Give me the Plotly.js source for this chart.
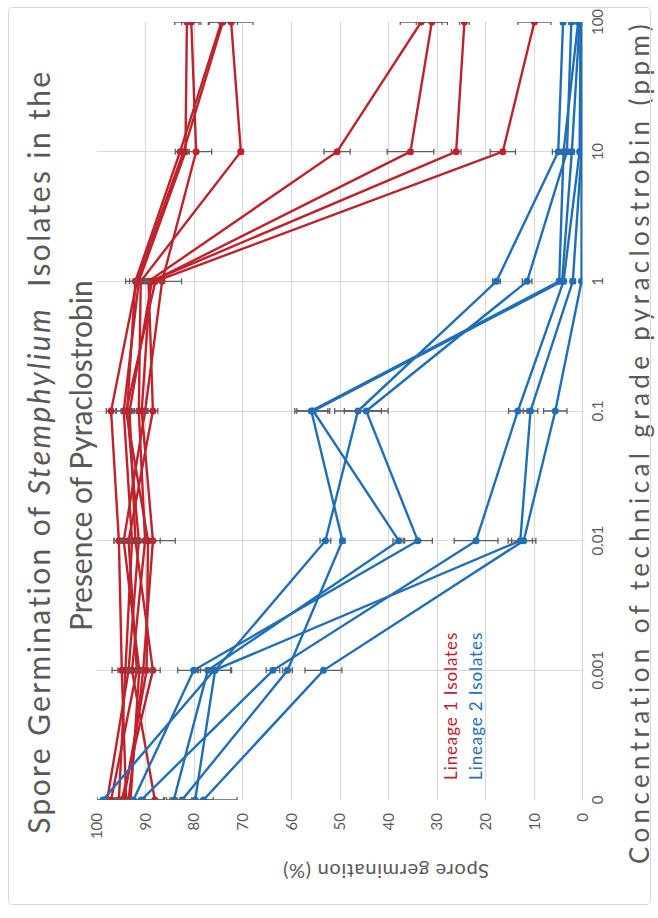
<!DOCTYPE html>
<html>
<head>
<meta charset="utf-8">
<script src="https://cdn.plot.ly/plotly-3.0.1.min.js"></script>
<style>
  html, body { margin:0; padding:0; background:#ffffff; }
  body { width:658px; height:918px; overflow:hidden; position:relative; }
  #wrap { position:absolute; left:0; top:0; width:918px; height:658px;
          transform-origin:0 0; transform:translate(0px,918px) rotate(-90deg); }
  #chart { position:absolute; left:0; top:0; width:918px; height:658px; }
  #frame { position:absolute; left:13px; top:8px; width:896px; height:641px;
           border:1px solid #d9d9d9; border-radius:4px; pointer-events:none; }
</style>
</head>
<body>
<div id="wrap"><div id="chart"></div><div id="frame"></div></div>
<script>
// Concentration categories (ppm)
const concentrations = ['0', '0.001', '0.01', '0.1', '1', '10', '100'];

// Lineage 1 isolates (red) – spore germination (%)
const lin1_a = [95.5, 94.2, 92.8, 94.5, 91.4, 81.8, 81.5];
const lin1_b = [93.1, 91.3, 94.5, 90.1, 86.6, 79.6, 80.6];
const lin1_c = [97.9, 93.5, 91.4, 93.8, 92.1, 82.9, 74.4];
const lin1_d = [94.0, 94.9, 95.5, 97.1, 91.8, 82.2, 74.1];
const lin1_e = [88.1, 92.8, 90.1, 91.4, 91.0, 70.4, 72.4];
const lin1_f = [97.1, 91.8, 93.5, 88.5, 89.4, 50.6, 33.3];
const lin1_g = [94.9, 88.5, 92.1, 93.3, 88.7, 35.5, 31.1];
const lin1_h = [93.5, 90.5, 88.5, 90.8, 89.0, 26.1, 24.4];
const lin1_i = [94.5, 89.8, 89.5, 94.0, 88.0, 16.5, 10.0];
// error (± %)
const lin1_a_err = [1.5, 1.5, 1.5, 1.5, 1.0, 0.8, 2.5];
const lin1_b_err = [2.0, 1.5, 2.0, 1.5, 4.0, 3.2, 2.0];
const lin1_c_err = [1.0, 1.0, 1.0, 1.0, 2.0, 1.0, 2.5];
const lin1_d_err = [1.5, 2.0, 1.0, 1.0, 1.5, 0.8, 3.0];
const lin1_e_err = [2.0, 1.0, 1.5, 1.0, 1.0, 0.5, 4.5];
const lin1_f_err = [1.0, 1.5, 1.5, 1.0, 1.5, 2.7, 4.3];
const lin1_g_err = [1.5, 1.5, 1.0, 1.0, 1.0, 4.8, 3.2];
const lin1_h_err = [1.0, 1.5, 1.5, 1.0, 1.0, 1.0, 1.0];
const lin1_i_err = [1.5, 1.0, 5.6, 1.0, 1.5, 2.6, 3.4];

// Lineage 2 isolates (blue) – spore germination (%)
const lin2_a = [79.8, 75.7, 53.0, 46.3, 17.8, 5.1, 4.1];
const lin2_b = [82.5, 60.8, 49.5, 55.9, 4.9, 4.0, 1.0];
const lin2_c = [84.2, 77.2, 37.9, 55.5, 4.3, 2.3, 0.7];
const lin2_d = [92.5, 80.1, 34.0, 44.6, 11.5, 3.3, 2.4];
const lin2_e = [90.9, 63.8, 22.0, 13.4, 4.0, 0.7, 0.5];
const lin2_f = [98.8, 75.9, 12.9, 10.8, 2.1, 0.3, 0.5];
const lin2_g = [78.1, 53.4, 12.2, 5.7, 0.3, 0.3, 0.3];
const lin2_a_err = [3.7, 3.4, 1.1, 4.8, 0.8, 1.2, 0.5];
const lin2_b_err = [2.0, 1.0, 0.5, 3.4, 0.5, 0.5, 0.4];
const lin2_c_err = [1.5, 1.5, 1.2, 3.4, 0.5, 0.5, 0.4];
const lin2_d_err = [2.3, 3.3, 3.0, 4.5, 1.0, 0.6, 0.5];
const lin2_e_err = [4.6, 1.4, 4.5, 1.9, 0.5, 0.4, 0.3];
const lin2_f_err = [1.2, 3.4, 2.5, 1.5, 0.5, 0.3, 0.3];
const lin2_g_err = [6.9, 3.8, 2.5, 2.4, 0.3, 0.3, 0.3];

const titleLine1 = 'Spore Germination of <i>Stemphylium</i>  Isolates in the';
const titleLine2 = 'Presence of Pyraclostrobin';
const xTitle = 'Concentration of technical grade pyraclostrobin (ppm)';
const yTitle = 'Spore germination (%)';
const legend1 = 'Lineage 1 Isolates';
const legend2 = 'Lineage 2 Isolates';

const RED = '#c0222c';
const BLUE = '#1f6fb8';
const ERR = '#5f5f5f';
const FONT = 'Lato, "Open Sans", sans-serif';

const redSeries = [[lin1_a, lin1_a_err],[lin1_b, lin1_b_err],[lin1_c, lin1_c_err],[lin1_d, lin1_d_err],
                   [lin1_e, lin1_e_err],[lin1_f, lin1_f_err],[lin1_g, lin1_g_err],[lin1_h, lin1_h_err],[lin1_i, lin1_i_err]];
const blueSeries = [[lin2_a, lin2_a_err],[lin2_b, lin2_b_err],[lin2_c, lin2_c_err],[lin2_d, lin2_d_err],
                    [lin2_e, lin2_e_err],[lin2_f, lin2_f_err],[lin2_g, lin2_g_err]];

function mk(s, color){
  return {
    type:'scatter', mode:'lines+markers', x:concentrations, y:s[0],
    line:{color:color, width:2.4}, marker:{color:color, size:7},
    error_y:{type:'data', array:s[1], visible:true, color:ERR, thickness:1.3, width:3},
    showlegend:false, hoverinfo:'skip'
  };
}
const traces = redSeries.map(s => mk(s, RED)).concat(blueSeries.map(s => mk(s, BLUE)));

const W=918, H=658, L=118, R=22, T=97, B=75;
const fx = p => (p - L) / (W - L - R);
const fy = p => (H - B - p) / (H - T - B);

// target text lengths (px) for each annotation, in order
const targetLen = [765, 0, 845, 207, 148, 148];

const layout = {
  width:W, height:H, margin:{l:L, r:R, t:T, b:B, pad:0},
  paper_bgcolor:'rgba(0,0,0,0)', plot_bgcolor:'#ffffff',
  font:{family:FONT, color:'#595959', size:14},
  xaxis:{type:'category', range:[0,6], showgrid:true, gridcolor:'#d9d9d9', gridwidth:1,
         showline:false, ticks:'', tickfont:{size:15, color:'#595959'}, zeroline:false,
         ticklabelstandoff:4},
  yaxis:{range:[0,100], dtick:10, showgrid:true, gridcolor:'#d9d9d9', gridwidth:1,
         zeroline:false, showline:false, ticks:'', tickfont:{size:15, color:'#595959'},
         ticklabelstandoff:12},
  shapes:[{type:'line', xref:'paper', yref:'y', x0:0, x1:1, y0:0, y1:0, line:{color:'#bfbfbf', width:1.3}}],
  annotations:[
    {text:titleLine1, xref:'paper', yref:'paper', x:fx(466), y:fy(38), showarrow:false,
     xanchor:'center', yanchor:'middle', font:{size:30, color:'#595959', family:FONT}},
    {text:titleLine2, xref:'paper', yref:'paper', x:fx(462), y:fy(80), showarrow:false,
     xanchor:'center', yanchor:'middle', font:{size:30, color:'#595959', family:FONT}},
    {text:xTitle, xref:'paper', yref:'paper', x:fx(476), y:fy(639), showarrow:false,
     xanchor:'center', yanchor:'middle', font:{size:26, color:'#595959', family:FONT}},
    {text:yTitle, xref:'paper', yref:'paper', x:fx(46), y:fy(386), showarrow:false, textangle:-90,
     xanchor:'center', yanchor:'middle', font:{size:20, color:'#595959', family:FONT}},
    {text:legend1, xref:'paper', yref:'paper', x:fx(212), y:fy(450), showarrow:false,
     xanchor:'center', yanchor:'middle', font:{size:17, color:RED, family:FONT}},
    {text:legend2, xref:'paper', yref:'paper', x:fx(212), y:fy(475), showarrow:false,
     xanchor:'center', yanchor:'middle', font:{size:17, color:BLUE, family:FONT}}
  ]
};
Plotly.newPlot('chart', traces, layout, {staticPlot:true, displayModeBar:false}).then(function(){
  const texts = document.querySelectorAll('#chart .annotation-text');
  texts.forEach(function(t, i){
    const target = targetLen[i];
    if (!target) return;
    const natural = t.getComputedTextLength();
    const n = t.textContent.length;
    const sp = (target - natural) / n;
    if (sp <= 0) return;
    t.style.letterSpacing = sp.toFixed(2) + 'px';
  });
});
</script>
</body>
</html>
